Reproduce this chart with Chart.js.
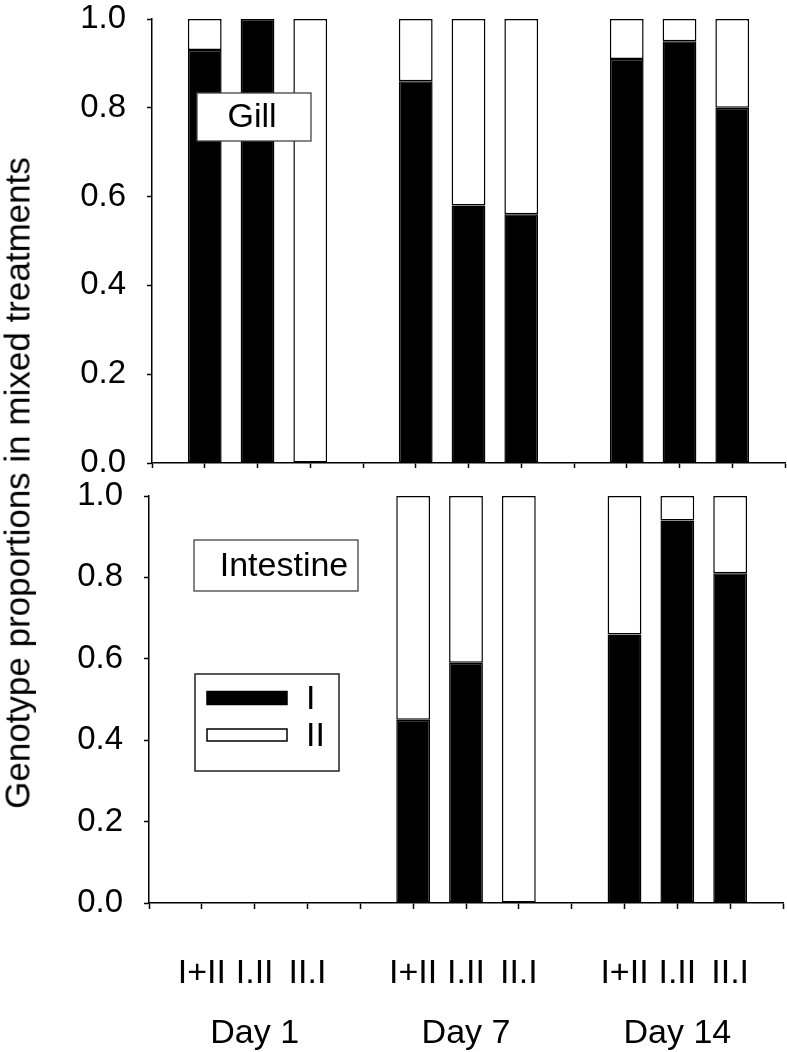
<!DOCTYPE html>
<html>
<head>
<meta charset="utf-8">
<script src="https://cdn.jsdelivr.net/npm/chart.js@4.4.1/dist/chart.umd.min.js"></script>
<style>
  html, body { margin: 0; padding: 0; background: #fff; }
  body { width: 787px; height: 1052px; position: relative; overflow: hidden; font-family: "Liberation Sans", Arial, sans-serif; }
  #c1wrap { position: absolute; left: 0; top: 0; width: 787px; height: 480px; }
  #c2wrap { position: absolute; left: 0; top: 480px; width: 787px; height: 572px; }
  #ytitle {
    position: absolute; left: 17px; top: 483px;
    transform: translate(-50%, -50%) rotate(-90deg);
    white-space: nowrap; font-size: 35px; color: #000; line-height: 1;
  }
</style>
</head>
<body>
<div id="c1wrap"><canvas id="c1" width="787" height="480"></canvas></div>
<div id="c2wrap"><canvas id="c2" width="787" height="572"></canvas></div>
<div id="ytitle">Genotype proportions in mixed treatments</div>
<script>
// ---- data ----
const barPositions = [1, 2, 3, 5, 6, 7, 9, 10, 11];
const treatmentLabels = ["I+II", "I.II", "II.I", "I+II", "I.II", "II.I", "I+II", "I.II", "II.I"];
const dayPositions = [2, 6, 10];
const dayLabels = ["Day 1", "Day 7", "Day 14"];
const seriesNames = ["I", "II"];
const gillI  = [0.93, 1.00, 0.00, 0.86, 0.58, 0.56, 0.91, 0.95, 0.80];
const gillII = [0.07, 0.00, 1.00, 0.14, 0.42, 0.44, 0.09, 0.05, 0.20];
const intI   = [null, null, null, 0.45, 0.59, 0.00, 0.66, 0.94, 0.81];
const intII  = [null, null, null, 0.55, 0.41, 1.00, 0.34, 0.06, 0.19];
const yTicks = [0, 0.2, 0.4, 0.6, 0.8, 1.0];

const FONT = '"Liberation Sans", Arial, sans-serif';

function pts(vals) { return barPositions.map((x, i) => ({ x: x, y: vals[i] })); }

function datasets(iv, iiv) {
  return [
    { label: seriesNames[0], data: pts(iv), backgroundColor: '#000000', borderColor: '#000000', borderWidth: 1.5, borderSkipped: false, categoryPercentage: 1, barPercentage: 0.64 },
    { label: seriesNames[1], data: pts(iiv), backgroundColor: '#ffffff', borderColor: '#000000', borderWidth: 1.5, borderSkipped: false, categoryPercentage: 1, barPercentage: 0.64 }
  ];
}

function noPad(s) { s.paddingTop = 0; s.paddingBottom = 0; s.paddingLeft = 0; s.paddingRight = 0; }

function yScale(width) {
  return {
    type: 'linear', min: 0, max: 1, stacked: true,
    afterBuildTicks: s => { s.ticks = yTicks.map(v => ({ value: v })); },
    ticks: { callback: v => Number(v).toFixed(1), font: { family: FONT, size: 33 }, color: '#000', padding: 21 },
    grid: { drawOnChartArea: false, drawTicks: true, tickLength: 5, tickColor: '#000', tickWidth: 1.5 },
    border: { display: true, color: '#000', width: 1.5 },
    afterFit: s => { s.width = width; noPad(s); }
  };
}

function allTicks(s) {
  const t = [];
  for (let v = s.min; v <= s.max; v++) t.push({ value: v });
  s.ticks = t;
}

// box + text annotation plugin
function labelBoxPlugin(id, box, text, align) {
  return {
    id: id,
    afterDatasetsDraw(chart) {
      const ctx = chart.ctx;
      ctx.save();
      ctx.fillStyle = '#fff';
      ctx.fillRect(box.x, box.y, box.w, box.h);
      ctx.strokeStyle = '#444';
      ctx.lineWidth = 1.3;
      ctx.strokeRect(box.x, box.y, box.w, box.h);
      ctx.fillStyle = '#000';
      ctx.font = '34px ' + FONT;
      ctx.textBaseline = 'middle';
      ctx.textAlign = align.align;
      ctx.fillText(text, align.x, box.y + box.h / 2 + 1);
      ctx.restore();
    }
  };
}

const legendPlugin = {
  id: 'boxLegend',
  afterDatasetsDraw(chart) {
    const ctx = chart.ctx;
    const bx = 195, by = 194, bw = 144, bh = 97;
    ctx.save();
    ctx.fillStyle = '#fff';
    ctx.fillRect(bx, by, bw, bh);
    ctx.strokeStyle = '#222';
    ctx.lineWidth = 1.5;
    ctx.strokeRect(bx, by, bw, bh);
    const rows = [218, 255];
    chart.data.datasets.forEach((ds, i) => {
      const cy = rows[i];
      const sh = i === 0 ? 13 : 12;
      ctx.fillStyle = ds.backgroundColor;
      ctx.fillRect(207, cy - sh / 2, 80, sh);
      ctx.strokeStyle = ds.borderColor;
      ctx.lineWidth = 1.5;
      ctx.strokeRect(207, cy - sh / 2, 80, sh);
      ctx.fillStyle = '#000';
      ctx.font = '34px ' + FONT;
      ctx.textAlign = 'left';
      ctx.textBaseline = 'middle';
      ctx.fillText(ds.label, 306, cy + 2);
    });
    ctx.restore();
  }
};

const common = {
  responsive: false,
  animation: false,
  events: [],
  plugins: { legend: { display: false }, tooltip: { enabled: false } }
};

// ---- top panel (Gill) ----
new Chart(document.getElementById('c1'), {
  type: 'bar',
  data: { datasets: datasets(gillI, gillII) },
  options: Object.assign({}, common, {
    layout: { padding: { top: 19, right: 2, left: 0, bottom: 0 } },
    scales: {
      x: {
        type: 'linear', min: 0, max: 12, stacked: true, offset: false,
        afterBuildTicks: allTicks,
        ticks: { callback: () => '', font: { size: 1 } },
        grid: { drawOnChartArea: false, drawTicks: true, tickLength: 5, tickColor: '#000', tickWidth: 1.5, offset: false },
        border: { display: true, color: '#000', width: 1.5 },
        afterFit: s => { s.height = 17; noPad(s); }
      },
      y: yScale(152)
    }
  }),
  plugins: [labelBoxPlugin('gillBox', { x: 197, y: 93, w: 114, h: 48 }, 'Gill', { align: 'center', x: 252 })]
});

// ---- bottom panel (Intestine) ----
new Chart(document.getElementById('c2'), {
  type: 'bar',
  data: { datasets: datasets(intI, intII) },
  options: Object.assign({}, common, {
    layout: { padding: { top: 16, right: 4, left: 0, bottom: 0 } },
    scales: {
      x: {
        type: 'linear', min: 0, max: 12, stacked: true, offset: false, position: 'bottom', weight: 1,
        afterBuildTicks: allTicks,
        ticks: {
          autoSkip: false, maxRotation: 0, minRotation: 0,
          callback: v => { const i = barPositions.indexOf(v); return i >= 0 ? treatmentLabels[i] : ''; },
          font: { family: FONT, size: 34 }, color: '#000', padding: 44
        },
        grid: { drawOnChartArea: false, drawTicks: true, tickLength: 6, tickColor: '#000', tickWidth: 1.5, offset: false },
        border: { display: true, color: '#000', width: 1.5 },
        afterFit: s => { s.height = 91; noPad(s); }
      },
      xDay: {
        type: 'linear', min: 0, max: 12, position: 'bottom', weight: 2, offset: false,
        afterBuildTicks: s => { s.ticks = dayPositions.map(v => ({ value: v })); },
        ticks: {
          autoSkip: false, maxRotation: 0, minRotation: 0,
          callback: (v, i) => dayLabels[i],
          font: { family: FONT, size: 34 }, color: '#000', padding: 19
        },
        grid: { display: false, drawTicks: false, drawOnChartArea: false },
        border: { display: false },
        afterFit: s => { s.height = 58; noPad(s); }
      },
      y: yScale(149)
    }
  }),
  plugins: [
    labelBoxPlugin('intBox', { x: 194, y: 60, w: 164, h: 51 }, 'Intestine', { align: 'center', x: 284 }),
    legendPlugin
  ]
});
</script>
</body>
</html>
